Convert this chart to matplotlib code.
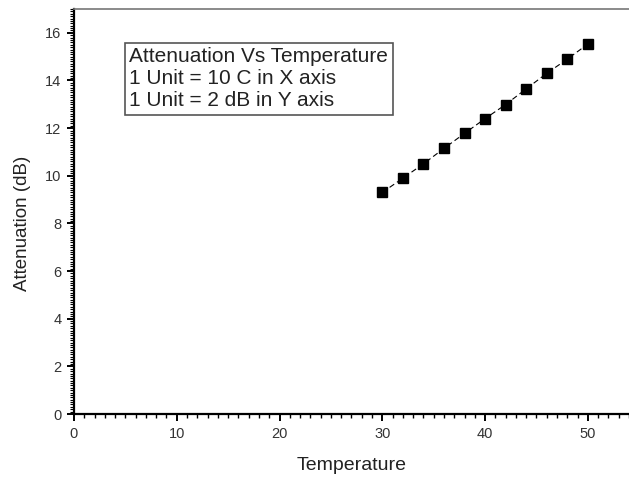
import matplotlib
matplotlib.use("Agg")
import matplotlib.pyplot as plt
from matplotlib.ticker import MultipleLocator

plt.rcParams['font.family'] = ['Liberation Sans', 'DejaVu Sans']

# data
temperature = [30, 32, 34, 36, 38, 40, 42, 44, 46, 48, 50]
attenuation = [9.3, 9.9, 10.5, 11.15, 11.78, 12.4, 12.99, 13.65, 14.3, 14.9, 15.53]
box_lines = ["Attenuation Vs Temperature",
             "1 Unit = 10 C in X axis",
             "1 Unit = 2 dB in Y axis"]

fig = plt.figure(figsize=(6.29, 4.8), dpi=100)
ax = fig.add_axes([0.1176, 0.1375, 0.8824, 0.8437])

ax.plot(temperature, attenuation, color='black', linestyle=(0, (5, 3)), lw=0.8,
        marker='s', markersize=6.5, markerfacecolor='black', markeredgecolor='black')

ax.set_xlim(0, 54)
ax.set_ylim(0, 17)
ax.xaxis.set_major_locator(MultipleLocator(10))
ax.xaxis.set_minor_locator(MultipleLocator(1))
ax.yaxis.set_major_locator(MultipleLocator(2))
ax.yaxis.set_minor_locator(MultipleLocator(0.1))

ax.spines['right'].set_visible(False)
ax.spines['top'].set_color('#777777')
ax.spines['top'].set_linewidth(1.2)
for s in ['left', 'bottom']:
    ax.spines[s].set_linewidth(1.6)
    ax.spines[s].set_color('black')

ax.tick_params(which='major', direction='out', length=5, width=1.4, labelsize=10.5,
               labelcolor='#333333', pad=4)
ax.tick_params(which='minor', direction='out', length=3, width=1.0)
ax.tick_params(axis='y', which='minor', width=0.8)
ax.tick_params(top=False, right=False, which='both')

ax.set_xlabel("Temperature", fontsize=14, color='#222222')
ax.set_ylabel("Attenuation (dB)", fontsize=13.5, color='#222222')
ax.xaxis.set_label_coords(0.5, -0.105)
ax.yaxis.set_label_coords(-0.078, 0.47)

ax.text(0.1, 0.905, "\n".join(box_lines), transform=ax.transAxes,
        fontsize=15, va='top', ha='left', linespacing=1.2, color='#222222',
        bbox=dict(boxstyle='square,pad=0.22', facecolor='white', edgecolor='#555555', lw=1.2))

fig.savefig("out.png", dpi=100)
